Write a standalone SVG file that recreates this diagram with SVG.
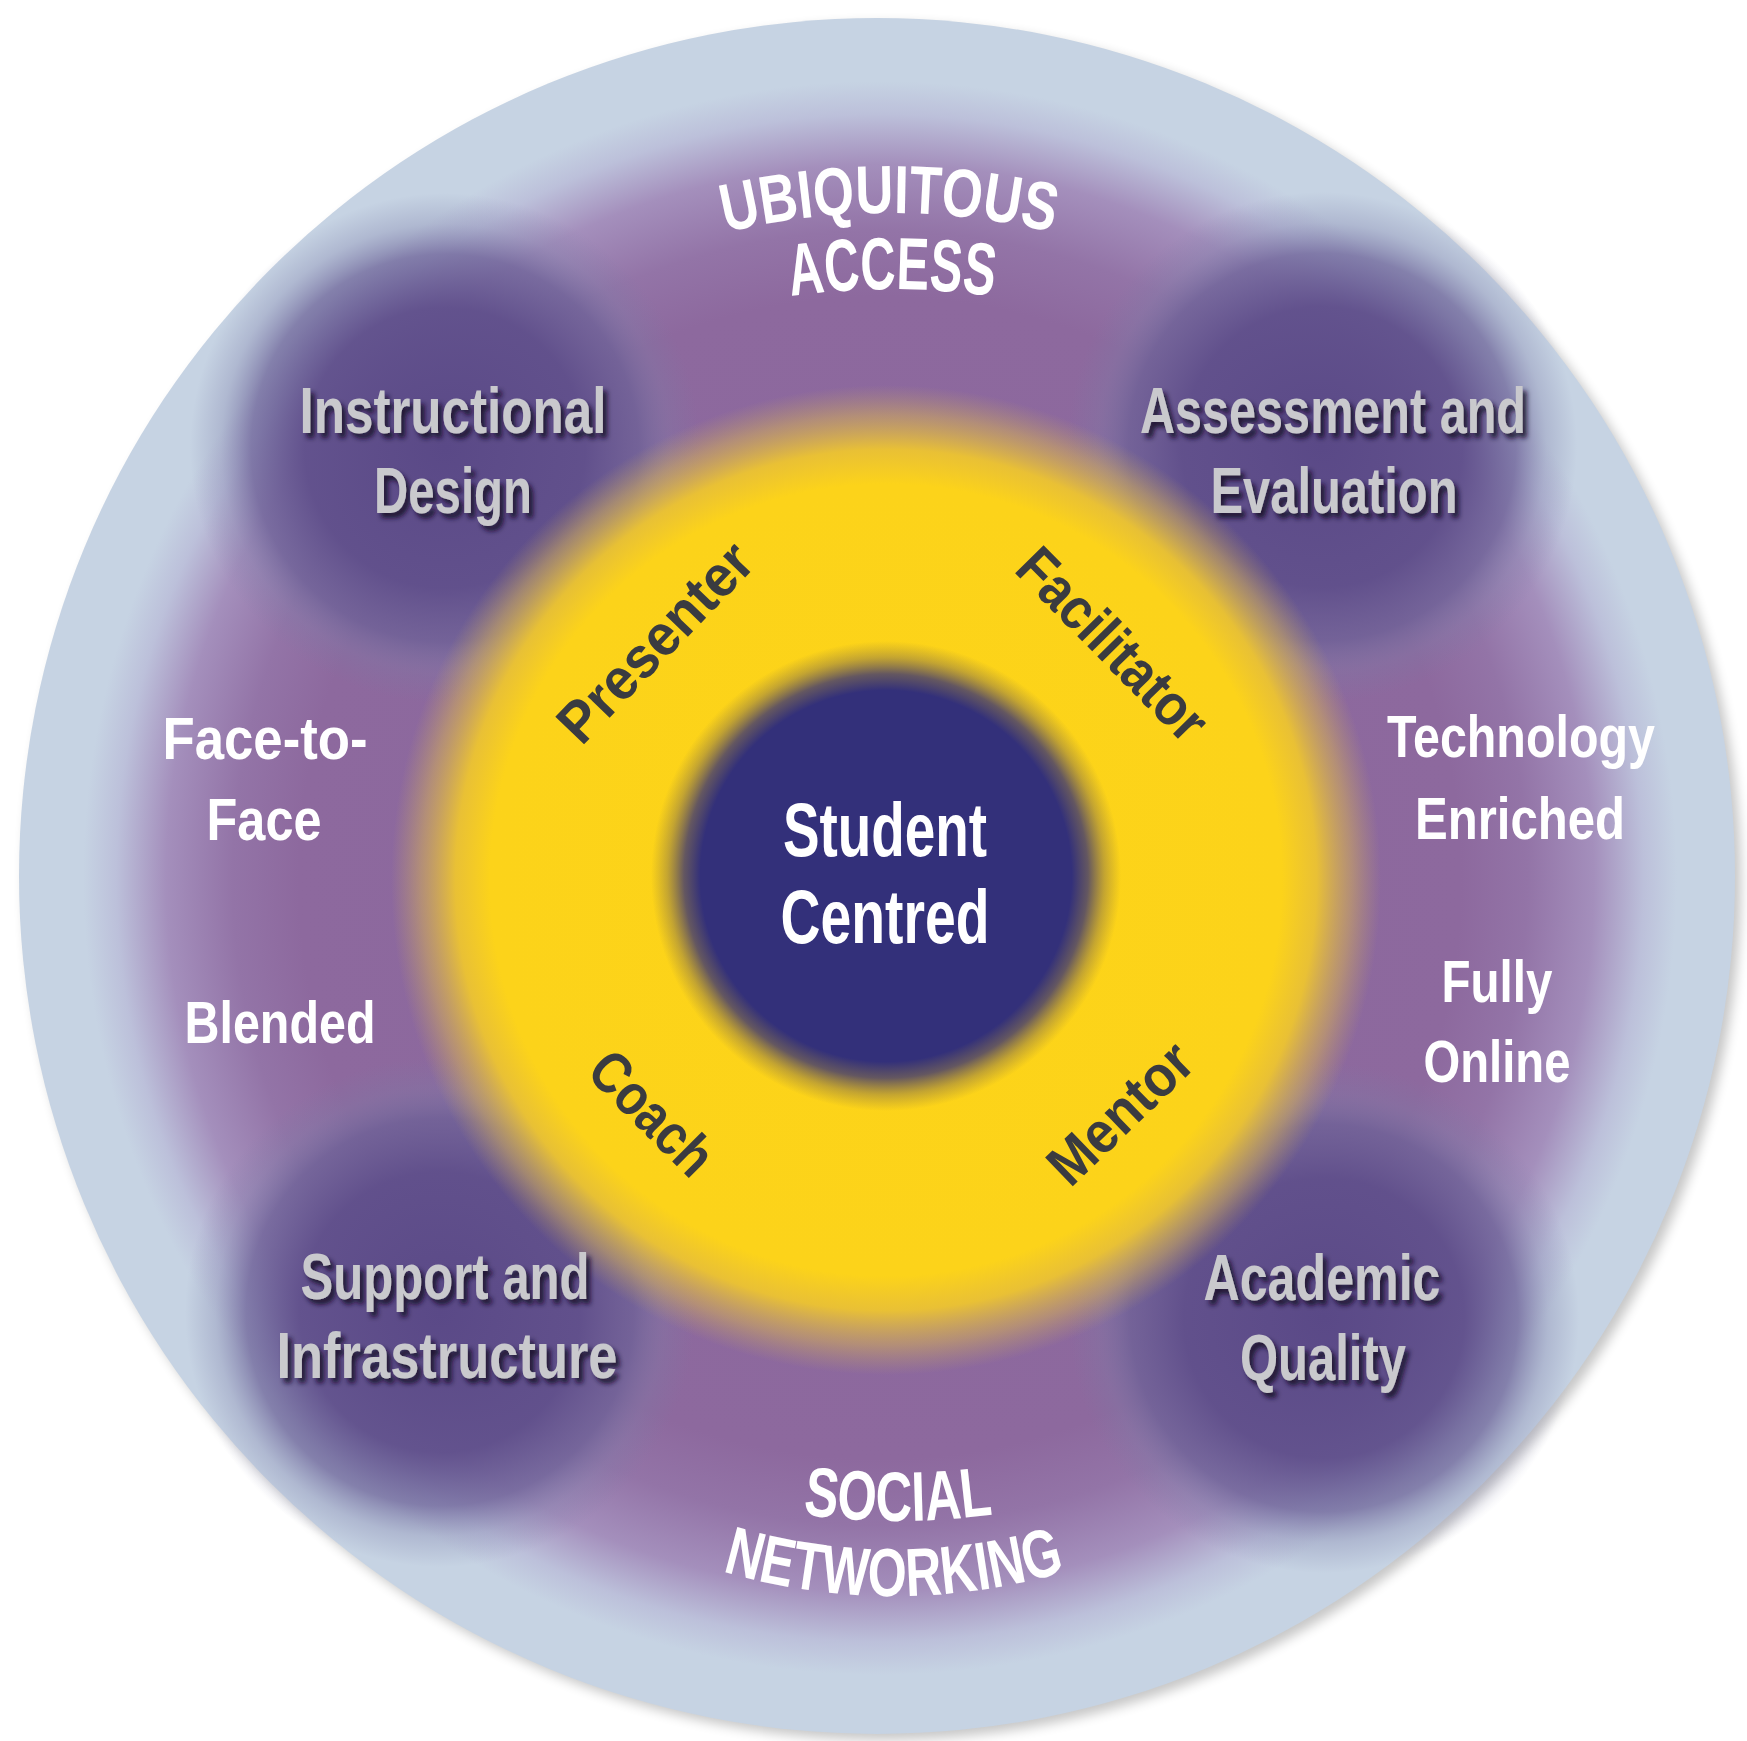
<svg xmlns="http://www.w3.org/2000/svg" width="1747" height="1741" viewBox="0 0 1747 1741">
  <defs>
    <style>
      text { font-family: "Liberation Sans Narrow", "Liberation Sans", "DejaVu Sans Condensed", sans-serif; font-weight: bold; }
      .white { fill: #ffffff; font-size: 60px; text-anchor: middle; }
      .center { fill: #ffffff; font-size: 76px; text-anchor: middle; }
      .corner { fill: #c9c9cd; font-size: 64px; text-anchor: middle; filter: url(#tshadow); }
      .role { fill: #3a3b40; font-size: 58px; text-anchor: middle; }
      .arc { fill: #ffffff; font-size: 68px; }
    </style>
    <filter id="discShadow" x="-10%" y="-10%" width="120%" height="120%">
      <feGaussianBlur stdDeviation="6"/>
    </filter>
    <filter id="tshadow" x="-10%" y="-40%" width="125%" height="190%">
      <feDropShadow dx="4" dy="5" stdDeviation="2.5" flood-color="#15112c" flood-opacity="0.9"/>
    </filter>
    <radialGradient id="gPurple" gradientUnits="userSpaceOnUse" cx="880" cy="878" r="830">
      <stop offset="0" stop-color="#8b669c"/>
      <stop offset="0.70" stop-color="#8d699e"/>
      <stop offset="0.78" stop-color="#9374a7"/>
      <stop offset="0.86" stop-color="#a48fbc"/>
      <stop offset="0.92" stop-color="#bcc0da"/>
      <stop offset="0.96" stop-color="#c6d3e3"/>
      <stop offset="1" stop-color="#c6d3e3"/>
    </radialGradient>
    <radialGradient id="gBlob">
      <stop offset="0" stop-color="#5a4987" stop-opacity="1"/>
      <stop offset="0.55" stop-color="#5f4f8b" stop-opacity="0.95"/>
      <stop offset="0.76" stop-color="#6a6096" stop-opacity="0.72"/>
      <stop offset="0.88" stop-color="#7a7aa6" stop-opacity="0.3"/>
      <stop offset="1" stop-color="#7a7aa6" stop-opacity="0"/>
    </radialGradient>
    <radialGradient id="gYellow" gradientUnits="userSpaceOnUse" cx="886" cy="880" r="495">
      <stop offset="0" stop-color="#fdd418"/>
      <stop offset="0.80" stop-color="#fcd31a"/>
      <stop offset="0.87" stop-color="#f1c82c" stop-opacity="0.92"/>
      <stop offset="0.94" stop-color="#d9b452" stop-opacity="0.5"/>
      <stop offset="1" stop-color="#c8a860" stop-opacity="0"/>
    </radialGradient>
    <radialGradient id="gCore" gradientUnits="userSpaceOnUse" cx="886" cy="876" r="235">
      <stop offset="0" stop-color="#33307a"/>
      <stop offset="0.79" stop-color="#33307a"/>
      <stop offset="0.86" stop-color="#3e3872" stop-opacity="0.8"/>
      <stop offset="0.93" stop-color="#5a4d5e" stop-opacity="0.35"/>
      <stop offset="1" stop-color="#6a5a50" stop-opacity="0"/>
    </radialGradient>
    <path id="pUbi" d="M539,306.8 A700,700 0 0,1 1239,306.8"/>
    <path id="pAccess" d="M588,356.5 A720,720 0 0,1 1196,356.5"/>
    <path id="pSocial" d="M594,1453.5 A720,720 0 0,0 1202,1453.5"/>
    <path id="pNet" d="M589,1514.3 A610,610 0 0,0 1199,1514.3"/>
  </defs>

  <rect width="1747" height="1741" fill="#ffffff"/>

  <g id="background">
    <circle cx="883" cy="882" r="858" fill="#000000" opacity="0.22" filter="url(#discShadow)"/>
    <circle cx="877" cy="876" r="858" fill="#c6d3e3"/>
    <circle cx="880" cy="878" r="830" fill="url(#gPurple)"/>
    <circle cx="445" cy="448" r="255" fill="url(#gBlob)"/>
    <circle cx="1322" cy="447" r="255" fill="url(#gBlob)"/>
    <circle cx="440" cy="1312" r="255" fill="url(#gBlob)"/>
    <circle cx="1324" cy="1318" r="255" fill="url(#gBlob)"/>
    <circle cx="886" cy="880" r="495" fill="url(#gYellow)"/>
    <circle cx="886" cy="876" r="235" fill="url(#gCore)"/>
  </g>

  <g id="connectors"/>

  <g id="node-student-centred">
    <text class="center" x="885" y="856" textLength="204" lengthAdjust="spacingAndGlyphs">Student</text>
    <text class="center" x="885" y="943" textLength="209" lengthAdjust="spacingAndGlyphs">Centred</text>
  </g>

  <g id="node-ubiquitous-access">
    <text class="arc"><textPath href="#pUbi" startOffset="50%" text-anchor="middle" textLength="330" lengthAdjust="spacingAndGlyphs">UBIQUITOUS</textPath></text>
    <text class="arc" style="font-size:74px"><textPath href="#pAccess" startOffset="50%" text-anchor="middle" textLength="203" lengthAdjust="spacingAndGlyphs">ACCESS</textPath></text>
  </g>

  <g id="node-social-networking">
    <text class="arc" style="font-size:70px"><textPath href="#pSocial" startOffset="50%" text-anchor="middle" textLength="191" lengthAdjust="spacingAndGlyphs">SOCIAL</textPath></text>
    <text class="arc"><textPath href="#pNet" startOffset="50%" text-anchor="middle" textLength="348" lengthAdjust="spacingAndGlyphs">NETWORKING</textPath></text>
  </g>

  <g id="node-instructional-design">
    <text class="corner" x="453" y="433" textLength="307" lengthAdjust="spacingAndGlyphs">Instructional</text>
    <text class="corner" x="453" y="513" textLength="158" lengthAdjust="spacingAndGlyphs">Design</text>
  </g>

  <g id="node-assessment-evaluation">
    <text class="corner" x="1333" y="433" textLength="386" lengthAdjust="spacingAndGlyphs">Assessment and</text>
    <text class="corner" x="1334" y="513" textLength="247" lengthAdjust="spacingAndGlyphs">Evaluation</text>
  </g>

  <g id="node-support-infrastructure">
    <text class="corner" x="445" y="1299" textLength="289" lengthAdjust="spacingAndGlyphs">Support and</text>
    <text class="corner" x="447" y="1378" textLength="341" lengthAdjust="spacingAndGlyphs">Infrastructure</text>
  </g>

  <g id="node-academic-quality">
    <text class="corner" x="1322" y="1300" textLength="237" lengthAdjust="spacingAndGlyphs">Academic</text>
    <text class="corner" x="1323" y="1380" textLength="166" lengthAdjust="spacingAndGlyphs">Quality</text>
  </g>

  <g id="node-face-to-face">
    <text class="white" x="265" y="759" textLength="205" lengthAdjust="spacingAndGlyphs">Face-to-</text>
    <text class="white" x="264" y="840" textLength="115" lengthAdjust="spacingAndGlyphs">Face</text>
  </g>

  <g id="node-blended">
    <text class="white" x="280" y="1043" textLength="191" lengthAdjust="spacingAndGlyphs">Blended</text>
  </g>

  <g id="node-technology-enriched">
    <text class="white" x="1521" y="757" textLength="268" lengthAdjust="spacingAndGlyphs">Technology</text>
    <text class="white" x="1520" y="839" textLength="210" lengthAdjust="spacingAndGlyphs">Enriched</text>
  </g>

  <g id="node-fully-online">
    <text class="white" x="1497" y="1002" textLength="111" lengthAdjust="spacingAndGlyphs">Fully</text>
    <text class="white" x="1497" y="1082" textLength="147" lengthAdjust="spacingAndGlyphs">Online</text>
  </g>

  <g id="node-presenter">
    <text class="role" transform="translate(655,642) rotate(-46)" x="0" y="20" textLength="253" lengthAdjust="spacingAndGlyphs">Presenter</text>
  </g>
  <g id="node-facilitator">
    <text class="role" transform="translate(1113,644) rotate(45.5)" x="0" y="20" textLength="245" lengthAdjust="spacingAndGlyphs">Facilitator</text>
  </g>
  <g id="node-coach">
    <text class="role" transform="translate(652,1113) rotate(45)" x="0" y="20" textLength="150" lengthAdjust="spacingAndGlyphs">Coach</text>
  </g>
  <g id="node-mentor">
    <text class="role" transform="translate(1120,1113) rotate(-44)" x="0" y="20" textLength="177" lengthAdjust="spacingAndGlyphs">Mentor</text>
  </g>
</svg>
